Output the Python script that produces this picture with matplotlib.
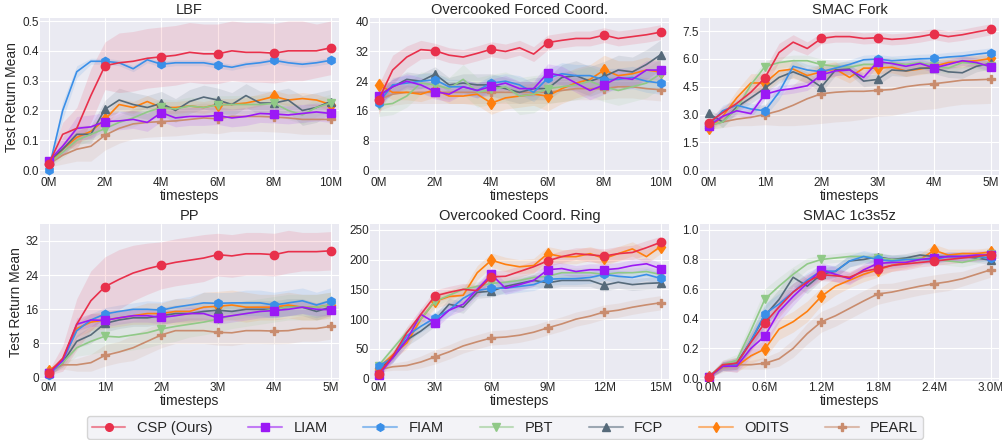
import numpy as np
import matplotlib
matplotlib.use("Agg")
import matplotlib.pyplot as plt
from matplotlib.lines import Line2D
from matplotlib.colors import to_rgba

# methods, in legend order
names = ["CSP (Ours)", "LIAM", "FIAM", "PBT", "FCP", "ODITS", "PEARL"]
colors = ["#e8304b", "#9b19f5", "#3a8fe8", "#90c987", "#566a7a", "#ff7f0e", "#c98c6e"]
markers = ["o", "s", "h", "v", "^", "d", "P"]

titles = ["LBF", "Overcooked Forced Coord.", "SMAC Fork",
          "PP", "Overcooked Coord. Ring", "SMAC 1c3s5z"]
x_max = [10, 10, 5, 5, 15, 3.0]
x_ticks = [[0, 2, 4, 6, 8, 10], [0, 2, 4, 6, 8, 10], [0, 1, 2, 3, 4, 5],
           [0, 1, 2, 3, 4, 5], [0, 3, 6, 9, 12, 15], [0, 0.6, 1.2, 1.8, 2.4, 3.0]]
x_ticklabels = [["0M", "2M", "4M", "6M", "8M", "10M"], ["0M", "2M", "4M", "6M", "8M", "10M"],
                ["0M", "1M", "2M", "3M", "4M", "5M"], ["0M", "1M", "2M", "3M", "4M", "5M"],
                ["0M", "3M", "6M", "9M", "12M", "15M"],
                ["0.0M", "0.6M", "1.2M", "1.8M", "2.4M", "3.0M"]]
y_ticks = [[0, 0.1, 0.2, 0.3, 0.4, 0.5], [0, 8, 16, 24, 32, 40], [0, 1.5, 3.0, 4.5, 6.0, 7.5],
           [0, 8, 16, 24, 32], [0, 50, 100, 150, 200, 250], [0, 0.2, 0.4, 0.6, 0.8, 1.0]]
y_ticklabels = [["0.0", "0.1", "0.2", "0.3", "0.4", "0.5"], ["0", "8", "16", "24", "32", "40"],
                ["0.0", "1.5", "3.0", "4.5", "6.0", "7.5"], ["0", "8", "16", "24", "32"],
                ["0", "50", "100", "150", "200", "250"], ["0.0", "0.2", "0.4", "0.6", "0.8", "1.0"]]
y_lims = [(-0.017, 0.51), (-1.3, 41), (-0.27, 8.2), (-0.8, 36), (-4, 260), (-0.02, 1.04)]

# ---- LBF ----
lbf_csp = [0.02, 0.12, 0.14, 0.25, 0.35, 0.36, 0.365, 0.375, 0.38, 0.385, 0.395, 0.39, 0.39, 0.40, 0.395, 0.395, 0.392, 0.40, 0.40, 0.40, 0.41]
lbf_liam = [0.03, 0.08, 0.14, 0.145, 0.163, 0.165, 0.17, 0.16, 0.193, 0.175, 0.18, 0.18, 0.183, 0.175, 0.18, 0.19, 0.188, 0.185, 0.19, 0.195, 0.19]
lbf_fiam = [0.0, 0.20, 0.33, 0.365, 0.365, 0.36, 0.34, 0.37, 0.355, 0.36, 0.36, 0.36, 0.352, 0.345, 0.355, 0.36, 0.368, 0.36, 0.355, 0.36, 0.368]
lbf_pbt = [0.02, 0.06, 0.10, 0.12, 0.139, 0.16, 0.175, 0.195, 0.21, 0.205, 0.215, 0.21, 0.219, 0.22, 0.22, 0.22, 0.224, 0.20, 0.185, 0.21, 0.225]
lbf_fcp = [0.03, 0.07, 0.12, 0.12, 0.204, 0.235, 0.22, 0.21, 0.224, 0.20, 0.23, 0.245, 0.235, 0.22, 0.25, 0.225, 0.225, 0.235, 0.20, 0.21, 0.23]
lbf_odits = [0.02, 0.07, 0.11, 0.13, 0.17, 0.22, 0.21, 0.23, 0.21, 0.21, 0.215, 0.21, 0.22, 0.22, 0.225, 0.235, 0.247, 0.235, 0.24, 0.235, 0.22]
lbf_pearl = [0.02, 0.05, 0.07, 0.08, 0.117, 0.14, 0.155, 0.16, 0.163, 0.165, 0.17, 0.175, 0.172, 0.18, 0.18, 0.18, 0.178, 0.175, 0.17, 0.17, 0.17]
lbf_csp_sd = [0.01, 0.04, 0.07, 0.09, 0.08, 0.10, 0.10, 0.10, 0.10, 0.10, 0.10, 0.10, 0.10, 0.10, 0.10, 0.10, 0.10, 0.10, 0.10, 0.09, 0.09]
lbf_liam_sd = [0.01, 0.03, 0.04, 0.04, 0.03, 0.03, 0.03, 0.03, 0.03, 0.03, 0.03, 0.03, 0.03, 0.03, 0.03, 0.03, 0.03, 0.03, 0.03, 0.03, 0.03]
lbf_fiam_sd = [0.01, 0.03, 0.02, 0.01, 0.01, 0.01, 0.01, 0.01, 0.01, 0.01, 0.01, 0.01, 0.01, 0.01, 0.01, 0.01, 0.01, 0.01, 0.01, 0.01, 0.01]
lbf_pbt_sd = [0.01, 0.02, 0.02, 0.02, 0.02, 0.02, 0.03, 0.03, 0.03, 0.03, 0.03, 0.03, 0.03, 0.03, 0.03, 0.03, 0.03, 0.03, 0.03, 0.03, 0.03]
lbf_fcp_sd = [0.01, 0.02, 0.03, 0.03, 0.03, 0.04, 0.04, 0.04, 0.04, 0.04, 0.04, 0.04, 0.04, 0.04, 0.04, 0.04, 0.04, 0.04, 0.05, 0.05, 0.04]
lbf_odits_sd = [0.01, 0.02, 0.02, 0.02, 0.02, 0.02, 0.02, 0.02, 0.02, 0.02, 0.02, 0.02, 0.02, 0.02, 0.02, 0.02, 0.02, 0.02, 0.02, 0.02, 0.02]
lbf_pearl_sd = [0.01, 0.03, 0.04, 0.05, 0.05, 0.05, 0.05, 0.05, 0.05, 0.05, 0.05, 0.05, 0.05, 0.05, 0.05, 0.05, 0.05, 0.05, 0.05, 0.05, 0.05]

# ---- Overcooked Forced Coord. ----
fc_csp = [19, 27, 30.5, 32.5, 32.2, 31, 30.5, 31.5, 32.6, 32, 33, 31.3, 34.4, 35, 35.5, 35.5, 36.4, 35.5, 36, 36.5, 37.2]
fc_liam = [20, 22.5, 24, 23, 21.2, 20.5, 22.5, 21.5, 22.6, 23.5, 22, 22, 26.2, 25.5, 23.5, 21.5, 23, 25, 24.5, 27, 27]
fc_fiam = [18.2, 23, 23.5, 24, 24.4, 22.5, 22.5, 21.5, 23.5, 24, 23, 21, 24.8, 26, 25.5, 25.5, 24.4, 24.5, 25, 24, 23.5]
fc_pbt = [17.5, 18, 20, 23.5, 23, 22, 24.5, 21, 21.8, 22.5, 20, 20.5, 22, 22.5, 23, 24, 22.5, 21.5, 22.5, 23.5, 26]
fc_fcp = [20, 22.5, 24.5, 24, 25.9, 23, 23.5, 23, 23, 22, 21, 22, 22, 25, 25.5, 24, 25.3, 27, 26.5, 28.5, 31.1]
fc_odits = [23, 21, 21, 20.5, 21.7, 20, 20, 20.5, 18.1, 19.5, 20, 20.5, 20, 22, 23.5, 24.5, 27, 25.5, 26, 27, 26.5]
fc_pearl = [19, 20.5, 21, 21, 21, 21, 21, 21, 21, 21, 21, 21, 21, 21.5, 22, 22, 22, 22.5, 22.5, 22, 21.7]
fc_csp_sd = [4, 4, 3, 2.5, 2, 2, 2, 2, 2, 2, 2, 2, 2, 2, 2, 2, 2, 2, 2, 2, 2]
fc_liam_sd = [2, 2, 2, 2, 2, 2, 2, 2, 2, 2, 2, 2, 2.5, 2.5, 2.5, 2.5, 2.5, 2.5, 2.5, 2.5, 2.5]
fc_fiam_sd = [2, 2, 2, 2, 2, 2, 2, 2, 2, 2, 2.5, 2.5, 2.5, 3, 3, 3, 3, 3, 3, 3, 3]
fc_pbt_sd = [3, 3, 3, 3, 3, 3, 4, 4, 4, 4, 5, 5, 4, 4, 4, 4, 4, 4, 4, 4, 4]
fc_fcp_sd = [2, 2, 2, 2, 2, 2, 2.5, 3, 3, 3, 3, 3, 3, 3.5, 4, 4, 4, 4, 4, 4, 4]
fc_odits_sd = [2, 2, 2, 2, 2, 2, 2, 3, 3, 3, 3, 3, 4, 4, 4, 4, 4, 4, 3.5, 3.5, 3]
fc_pearl_sd = [3, 3, 3, 3, 3, 3, 3, 3, 3, 3, 3, 3, 3, 3, 3, 3, 3, 3, 3, 3, 3]

# ---- SMAC Fork ----
fk_csp = [2.55, 3.1, 3.6, 4.2, 4.98, 6.34, 6.9, 6.56, 7.1, 7.2, 7.2, 7.1, 7.14, 7.05, 7.1, 7.2, 7.34, 7.2, 7.3, 7.45, 7.59]
fk_liam = [2.38, 2.9, 3.2, 3.05, 4.09, 4.3, 4.4, 4.55, 5.14, 5.35, 5.4, 5.0, 5.85, 5.75, 5.6, 5.75, 5.51, 5.7, 5.9, 5.8, 5.58]
fk_fiam = [2.4, 3.2, 3.5, 3.3, 3.2, 4.2, 5.6, 5.4, 5.31, 5.5, 5.7, 5.95, 5.99, 5.9, 5.95, 6.0, 6.02, 6.1, 6.15, 6.25, 6.34]
fk_pbt = [2.4, 2.6, 3.3, 4.6, 5.58, 5.8, 5.9, 5.9, 5.69, 5.6, 5.55, 5.7, 5.7, 5.8, 5.7, 5.8, 5.6, 5.5, 5.8, 5.75, 5.6]
fk_fcp = [3.06, 2.6, 3.4, 3.9, 4.42, 5.0, 5.3, 5.0, 4.48, 5.4, 5.45, 4.8, 4.89, 5.4, 5.35, 5.5, 5.5, 5.3, 5.25, 5.6, 5.75]
fk_odits = [2.25, 2.9, 3.9, 4.7, 4.7, 5.35, 5.45, 5.1, 5.3, 5.45, 5.0, 5.5, 5.5, 5.55, 5.35, 5.45, 5.6, 5.8, 5.85, 5.9, 6.02]
fk_pearl = [2.4, 2.6, 2.75, 2.85, 3.0, 3.2, 3.5, 3.85, 4.12, 4.2, 4.25, 4.25, 4.3, 4.35, 4.5, 4.6, 4.66, 4.75, 4.85, 4.87, 4.9]
fk_csp_sd = [0.2, 0.3, 0.3, 0.4, 0.5, 0.5, 0.4, 0.35, 0.3, 0.3, 0.3, 0.3, 0.3, 0.3, 0.3, 0.3, 0.3, 0.3, 0.3, 0.3, 0.3]
fk_liam_sd = [0.2, 0.25, 0.25, 0.25, 0.25, 0.25, 0.25, 0.25, 0.25, 0.25, 0.25, 0.25, 0.25, 0.25, 0.25, 0.25, 0.25, 0.25, 0.25, 0.25, 0.25]
fk_fiam_sd = [0.2, 0.3, 0.3, 0.3, 0.3, 0.4, 0.4, 0.3, 0.3, 0.25, 0.25, 0.25, 0.25, 0.25, 0.25, 0.25, 0.25, 0.25, 0.25, 0.25, 0.25]
fk_pbt_sd = [0.2, 0.3, 0.3, 0.3, 0.3, 0.3, 0.3, 0.3, 0.3, 0.3, 0.3, 0.3, 0.3, 0.3, 0.3, 0.3, 0.3, 0.3, 0.3, 0.3, 0.3]
fk_fcp_sd = [0.2, 0.3, 0.3, 0.3, 0.3, 0.3, 0.3, 0.3, 0.3, 0.3, 0.3, 0.3, 0.3, 0.3, 0.3, 0.3, 0.3, 0.3, 0.3, 0.3, 0.3]
fk_odits_sd = [0.2, 0.3, 0.4, 0.5, 0.5, 0.5, 0.5, 0.4, 0.4, 0.4, 0.3, 0.3, 0.3, 0.3, 0.3, 0.3, 0.3, 0.3, 0.3, 0.3, 0.3]
fk_pearl_sd = [0.2, 0.3, 0.35, 0.45, 0.55, 0.8, 1.1, 1.4, 1.6, 1.6, 1.6, 1.5, 1.4, 1.4, 1.4, 1.35, 1.35, 1.3, 1.3, 1.3, 1.3]

# ---- PP ----
pp_csp = [1.1, 4.5, 12.5, 18, 21.3, 23, 24.5, 25.5, 26.3, 27, 27.5, 28, 28.8, 28.5, 29, 29, 28.8, 29.5, 29.5, 29.5, 29.7]
pp_liam = [1.0, 4, 12.5, 13.5, 13.4, 14, 14.5, 14.5, 14.1, 14.5, 15, 15, 14, 14.5, 15, 15.5, 15.7, 16, 16.5, 16, 15.9]
pp_fiam = [0.7, 4, 11, 13.5, 14.9, 15.5, 16, 16, 15.8, 16.5, 17, 17.5, 17.4, 17.5, 17.5, 17.5, 17, 17.5, 18, 17, 18]
pp_pbt = [1, 3.5, 7, 8.5, 9.7, 9.5, 10, 10.5, 11.4, 12, 12.5, 13, 13.7, 14.5, 15, 15.5, 16, 16.5, 16.5, 16.5, 17]
pp_fcp = [1, 3.5, 8.5, 10, 12.7, 13.5, 14, 14, 14.5, 15, 15, 15.5, 15.8, 15.5, 16, 16, 16, 16.5, 16.5, 15.5, 16.5]
pp_odits = [1.5, 4, 11.5, 13, 13.5, 14, 14.5, 15, 15, 15.5, 15.5, 16.5, 16.7, 17, 16.5, 16.5, 16.5, 17, 16.5, 16.5, 17]
pp_pearl = [1.5, 3, 3, 3.5, 5.2, 6, 7, 8.5, 10, 11, 11, 11, 10.6, 10.5, 11, 11, 10.9, 11, 11.5, 11.5, 12]
pp_csp_sd = [0.5, 3, 6, 7, 7, 7, 6.5, 6, 5.5, 5.5, 5.5, 5.5, 5, 5, 5, 5, 5, 5, 4.5, 4.5, 4.5]
pp_liam_sd = [0.5, 1, 1.5, 1.5, 1.5, 1.5, 1.5, 1.5, 1.5, 1.5, 1.5, 1.5, 1.5, 1.5, 1.5, 1.5, 1.5, 1.5, 1.5, 1.5, 1.5]
pp_fiam_sd = [0.5, 1, 1.5, 1.5, 1.5, 1.5, 1.5, 2, 2, 2, 2, 2.5, 2.5, 2.5, 3, 3, 3, 3, 3, 3, 3]
pp_pbt_sd = [0.5, 1, 2, 3, 3.5, 3.5, 3.5, 3.5, 3.5, 3.5, 3, 3, 3, 3, 3, 3, 3, 3, 3, 3, 3]
pp_fcp_sd = [0.5, 1, 1.5, 2, 2, 2, 2, 2, 2, 2, 2, 2, 2, 2, 2, 2, 2, 2, 2, 2, 2]
pp_odits_sd = [0.5, 1, 2, 2, 2, 2, 2, 2.5, 2.5, 3, 3, 3.5, 3.5, 3.5, 3.5, 3, 3, 3, 3, 3, 3]
pp_pearl_sd = [0.5, 1, 1.5, 2, 2.5, 2.5, 3, 3, 3, 3, 3, 3, 3, 3, 3, 3, 3, 3, 3, 3, 3]

# ---- Overcooked Coord. Ring ----
rg_csp = [8.4, 38, 77, 108, 139, 145, 150, 148, 171, 172, 180, 188, 198, 205, 210, 208, 206, 210, 212, 220, 229]
rg_liam = [5.6, 35, 65, 108, 94, 115, 125, 150, 175, 152, 158, 165, 183, 185, 180, 183, 183, 185, 190, 193, 185]
rg_fiam = [21, 35, 72, 88, 102, 115, 135, 148, 152, 152, 155, 158, 167, 168, 168, 170, 175, 172, 170, 175, 168.5]
rg_pbt = [22, 50, 78, 100, 130, 140, 150, 155, 160, 162, 165, 170, 172, 178, 178, 178, 175, 178, 178, 180, 175]
rg_fcp = [15, 35, 65, 80, 98, 125, 120, 145, 147, 155, 160, 165, 161, 165, 165, 165, 157, 162, 158, 160, 161]
rg_odits = [18, 40, 60, 100, 130, 138, 140, 178, 199, 192, 188, 190, 210, 205, 205, 210, 202, 210, 218, 205, 222]
rg_pearl = [15, 20, 22, 28, 36.5, 45, 55, 62, 68.5, 70, 73, 78, 85.4, 92, 100, 105, 112, 115, 120, 124, 127.5]
rg_csp_sd = [4, 8, 10, 10, 10, 10, 10, 10, 10, 10, 10, 10, 10, 10, 10, 12, 12, 12, 12, 12, 10]
rg_liam_sd = [4, 8, 10, 10, 10, 10, 10, 10, 10, 10, 10, 10, 10, 10, 10, 10, 10, 10, 10, 10, 10]
rg_fiam_sd = [4, 8, 10, 10, 10, 10, 10, 10, 10, 10, 10, 10, 10, 10, 10, 10, 10, 10, 10, 10, 10]
rg_pbt_sd = [4, 6, 8, 8, 8, 8, 8, 8, 8, 8, 8, 8, 8, 8, 8, 8, 8, 8, 8, 8, 8]
rg_fcp_sd = [4, 8, 10, 10, 10, 10, 10, 10, 10, 10, 10, 10, 10, 10, 10, 10, 10, 10, 10, 10, 10]
rg_odits_sd = [4, 8, 10, 10, 12, 12, 12, 12, 12, 12, 12, 12, 12, 12, 12, 12, 12, 12, 12, 12, 12]
rg_pearl_sd = [4, 6, 8, 10, 12, 12, 12, 12, 12, 12, 12, 12, 12, 12, 12, 12, 12, 12, 12, 12, 12]

# ---- SMAC 1c3s5z ----
sm_csp = [0.005, 0.09, 0.10, 0.24, 0.373, 0.48, 0.58, 0.65, 0.698, 0.69, 0.68, 0.72, 0.738, 0.76, 0.77, 0.78, 0.789, 0.80, 0.81, 0.82, 0.833]
sm_liam = [0.005, 0.08, 0.08, 0.20, 0.284, 0.45, 0.55, 0.64, 0.729, 0.70, 0.67, 0.73, 0.773, 0.78, 0.78, 0.80, 0.81, 0.82, 0.82, 0.83, 0.83]
sm_fiam = [0.005, 0.08, 0.09, 0.25, 0.433, 0.50, 0.58, 0.66, 0.724, 0.72, 0.79, 0.82, 0.80, 0.79, 0.80, 0.80, 0.80, 0.82, 0.82, 0.82, 0.81]
sm_pbt = [0.01, 0.09, 0.12, 0.32, 0.533, 0.62, 0.70, 0.77, 0.80, 0.81, 0.82, 0.82, 0.81, 0.80, 0.80, 0.81, 0.80, 0.79, 0.78, 0.80, 0.84]
sm_fcp = [0.01, 0.08, 0.10, 0.25, 0.42, 0.53, 0.68, 0.62, 0.70, 0.72, 0.79, 0.80, 0.818, 0.80, 0.81, 0.83, 0.82, 0.82, 0.82, 0.81, 0.795]
sm_odits = [0.005, 0.08, 0.08, 0.15, 0.196, 0.33, 0.38, 0.45, 0.551, 0.62, 0.66, 0.70, 0.73, 0.76, 0.78, 0.80, 0.862, 0.83, 0.84, 0.84, 0.85]
sm_pearl = [0.01, 0.07, 0.09, 0.09, 0.10, 0.13, 0.20, 0.30, 0.38, 0.42, 0.47, 0.52, 0.567, 0.58, 0.60, 0.62, 0.636, 0.65, 0.67, 0.70, 0.73]
sm_csp_sd = [0.01, 0.03, 0.04, 0.06, 0.07, 0.07, 0.06, 0.05, 0.04, 0.04, 0.04, 0.04, 0.04, 0.04, 0.04, 0.03, 0.03, 0.03, 0.03, 0.03, 0.03]
sm_liam_sd = [0.01, 0.03, 0.04, 0.06, 0.07, 0.07, 0.06, 0.05, 0.05, 0.05, 0.04, 0.04, 0.04, 0.04, 0.03, 0.03, 0.03, 0.03, 0.03, 0.03, 0.03]
sm_fiam_sd = [0.01, 0.03, 0.04, 0.06, 0.07, 0.07, 0.06, 0.05, 0.04, 0.04, 0.04, 0.04, 0.04, 0.04, 0.03, 0.03, 0.03, 0.03, 0.03, 0.03, 0.03]
sm_pbt_sd = [0.01, 0.03, 0.04, 0.06, 0.07, 0.06, 0.05, 0.04, 0.03, 0.03, 0.03, 0.03, 0.03, 0.03, 0.03, 0.03, 0.03, 0.03, 0.03, 0.03, 0.03]
sm_fcp_sd = [0.01, 0.03, 0.04, 0.06, 0.07, 0.07, 0.06, 0.05, 0.04, 0.04, 0.04, 0.03, 0.03, 0.03, 0.03, 0.03, 0.03, 0.03, 0.03, 0.03, 0.03]
sm_odits_sd = [0.01, 0.03, 0.04, 0.05, 0.06, 0.07, 0.07, 0.07, 0.06, 0.06, 0.05, 0.05, 0.05, 0.04, 0.04, 0.04, 0.04, 0.04, 0.03, 0.03, 0.03]
sm_pearl_sd = [0.01, 0.03, 0.03, 0.03, 0.04, 0.05, 0.06, 0.07, 0.07, 0.07, 0.07, 0.07, 0.07, 0.06, 0.06, 0.06, 0.06, 0.06, 0.05, 0.05, 0.05]

panels = [
    [lbf_csp, lbf_liam, lbf_fiam, lbf_pbt, lbf_fcp, lbf_odits, lbf_pearl],
    [fc_csp, fc_liam, fc_fiam, fc_pbt, fc_fcp, fc_odits, fc_pearl],
    [fk_csp, fk_liam, fk_fiam, fk_pbt, fk_fcp, fk_odits, fk_pearl],
    [pp_csp, pp_liam, pp_fiam, pp_pbt, pp_fcp, pp_odits, pp_pearl],
    [rg_csp, rg_liam, rg_fiam, rg_pbt, rg_fcp, rg_odits, rg_pearl],
    [sm_csp, sm_liam, sm_fiam, sm_pbt, sm_fcp, sm_odits, sm_pearl],
]
panels_sd = [
    [lbf_csp_sd, lbf_liam_sd, lbf_fiam_sd, lbf_pbt_sd, lbf_fcp_sd, lbf_odits_sd, lbf_pearl_sd],
    [fc_csp_sd, fc_liam_sd, fc_fiam_sd, fc_pbt_sd, fc_fcp_sd, fc_odits_sd, fc_pearl_sd],
    [fk_csp_sd, fk_liam_sd, fk_fiam_sd, fk_pbt_sd, fk_fcp_sd, fk_odits_sd, fk_pearl_sd],
    [pp_csp_sd, pp_liam_sd, pp_fiam_sd, pp_pbt_sd, pp_fcp_sd, pp_odits_sd, pp_pearl_sd],
    [rg_csp_sd, rg_liam_sd, rg_fiam_sd, rg_pbt_sd, rg_fcp_sd, rg_odits_sd, rg_pearl_sd],
    [sm_csp_sd, sm_liam_sd, sm_fiam_sd, sm_pbt_sd, sm_fcp_sd, sm_odits_sd, sm_pearl_sd],
]

plt.style.use("seaborn-v0_8-darkgrid")
plt.rcParams["font.family"] = ["Liberation Sans", "DejaVu Sans"]

fig = plt.figure(figsize=(10.03, 4.40), dpi=100)
axes = fig.subplots(2, 3)
fig.subplots_adjust(left=0.04, right=0.996, top=0.959, bottom=0.134, wspace=0.104, hspace=0.31)

for p, ax in enumerate(axes.flat):
    n = len(panels[p][0])
    x = np.linspace(0, x_max[p], n)
    # draw CSP last so it is on top
    for k in reversed(range(len(names))):
        m = np.array(panels[p][k])
        s = np.array(panels_sd[p][k])
        ax.fill_between(x, m - s, m + s, color=colors[k], alpha=0.13, lw=0, zorder=1)
        ax.plot(x, m, color=colors[k], lw=1.2, marker=markers[k], markevery=4,
                markersize=6, zorder=3 + (len(names) - k))
    ax.set_title(titles[p], fontsize=10.5, pad=3, color="#262626")
    ax.set_xticks(x_ticks[p])
    ax.set_xticklabels(x_ticklabels[p])
    ax.set_yticks(y_ticks[p])
    ax.set_yticklabels(y_ticklabels[p])
    ax.set_ylim(*y_lims[p])
    ax.margins(x=0.03)
    ax.tick_params(labelsize=8.5, pad=1, colors="#262626")
    ax.set_xlabel("timesteps", fontsize=10, labelpad=0, color="#262626")
    if p % 3 == 0:
        ax.set_ylabel("Test Return Mean", fontsize=10, labelpad=2, color="#262626")

handles = [Line2D([0], [0], color=to_rgba(c, 0.55), lw=1.5, marker=mk, markersize=5.5,
                  markerfacecolor=c, markeredgecolor=c) for c, mk in zip(colors, markers)]
leg = fig.legend(handles, names, loc="upper center", bbox_to_anchor=(0.5035, 0.0705), ncol=7,
                 fontsize=10.5, frameon=True, handlelength=2.3, columnspacing=2.45,
                 borderpad=0.3, fancybox=True)
leg.get_frame().set_facecolor("#F0F0F5")
leg.get_frame().set_edgecolor("#CCCCCC")
for t in leg.get_texts():
    t.set_color("#262626")

fig.savefig("out.png", dpi=100)
